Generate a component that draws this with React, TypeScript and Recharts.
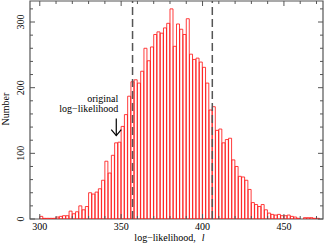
import React from 'react';
import { BarChart, Bar, XAxis, YAxis, ReferenceLine, ReferenceArea } from 'recharts';

// histogram bins (left edge, width 2) and counts
const binLeft = [
  300, 302, 304, 306, 308, 310, 312, 314, 316, 318,
  320, 322, 324, 326, 328, 330, 332, 334, 336, 338,
  340, 342, 344, 346, 348, 350, 352, 354, 356, 358,
  360, 362, 364, 366, 368, 370, 372, 374, 376, 378,
  380, 382, 384, 386, 388, 390, 392, 394, 396, 398,
  400, 402, 404, 406, 408, 410, 412, 414, 416, 418,
  420, 422, 424, 426, 428, 430, 432, 434, 436, 438,
  440, 442, 444, 446, 448, 450, 452, 454, 456, 458,
  460, 462, 464, 466, 468, 470,
];
const counts = [
  4, 1, 1, 1, 1, 3, 4, 5, 5, 12,
  8, 11, 20, 14, 19, 40, 38, 41, 46, 59,
  88, 70, 97, 116, 117, 141, 159, 187, 209, 212,
  207, 225, 260, 241, 262, 281, 285, 283, 291, 298,
  320, 263, 297, 289, 281, 305, 251, 243, 245, 239,
  231, 207, 166, 171, 135, 137, 116, 121, 123, 90,
  80, 65, 64, 59, 45, 25, 22, 19, 22, 14,
  9, 7, 6, 7, 5, 5, 6, 4, 3, 1,
  0, 2, 2, 2, 1, 1,
];
const BIN_WIDTH = 2;

const xTicks = [300, 310, 320, 330, 340, 350, 360, 370, 380, 390, 400, 410, 420, 430, 440, 450, 460, 470];
const yTicks = [0, 20, 40, 60, 80, 100, 120, 140, 160, 180, 200, 220, 240, 260, 280, 300, 320];
const xDomain = [294, 474];
const yDomain = [0, 332];

const limits = [357, 406];
const original = 347;

const data = binLeft.map((b, i) => ({ x: b + BIN_WIDTH / 2, n: counts[i] }));

const W = 325;
const H = 244;
const M = { top: 1, right: 2, left: 0, bottom: 0 };
const FONT = '"Liberation Serif", "Times New Roman", serif';
const AXIS = '#555';

const plotTop = M.top;
const plotRight = W - M.right;

const XTick = ({ x, y, payload }: any) => {
  const major = payload.value % 50 === 0;
  const len = major ? 5 : 3;
  return (
    <g>
      <line x1={x} x2={x} y1={y} y2={y - len} stroke={AXIS} />
      <line x1={x} x2={x} y1={plotTop} y2={plotTop + len} stroke={AXIS} />
      {major && (
        <text x={x} y={y + 11} textAnchor="middle" fontSize={10} fontFamily={FONT} fill="#000">
          {payload.value}
        </text>
      )}
    </g>
  );
};

const YTick = ({ x, y, payload }: any) => {
  const major = payload.value % 100 === 0;
  const len = major ? 5 : 3;
  return (
    <g>
      <line x1={x} x2={x + len} y1={y} y2={y} stroke={AXIS} />
      <line x1={plotRight - len} x2={plotRight} y1={y} y2={y} stroke={AXIS} />
      {major && (
        <text
          x={x - 6}
          y={y}
          transform={`rotate(-90, ${x - 6}, ${y})`}
          textAnchor="middle"
          fontSize={10}
          fontFamily={FONT}
          fill="#000"
        >
          {payload.value}
        </text>
      )}
    </g>
  );
};

const XLabel = ({ viewBox }: any) => (
  <text
    x={viewBox.x + viewBox.width / 2 - 7}
    y={viewBox.y + 22}
    textAnchor="middle"
    fontSize={10}
    fontFamily={FONT}
    fill="#000"
  >
    log−likelihood,<tspan dx={6} fontStyle="italic">l</tspan>
  </text>
);

const YLabel = ({ viewBox }: any) => {
  const cx = viewBox.x + 8.5;
  const cy = viewBox.y + viewBox.height / 2 - 1;
  return (
    <text x={cx} y={cy} transform={`rotate(-90, ${cx}, ${cy})`} textAnchor="middle" fontSize={10} fontFamily={FONT} fill="#000">
      Number
    </text>
  );
};

// arrow + annotation text for the original log-likelihood
const ArrowShape = ({ x1, y1, x2, y2 }: any) => (
  <g>
    <line x1={x1} y1={y1} x2={x2} y2={y2} stroke="#000" strokeWidth={1.2} />
    <polyline
      points={`${x2 - 5},${y2 - 6} ${x2},${y2} ${x2 + 5},${y2 - 6}`}
      fill="none"
      stroke="#000"
      strokeWidth={1.2}
    />
    <text x={x1 + 2} y={y1 - 17} textAnchor="end" fontSize={10} fontFamily={FONT} fill="#000">
      original
    </text>
    <text x={x1 + 2} y={y1 - 7} textAnchor="end" fontSize={10} fontFamily={FONT} fill="#000">
      log−likelihood
    </text>
  </g>
);

export default function App() {
  return (
    <div style={{ position: 'absolute', left: 0, top: 0, width: W, height: H, background: '#fff' }}>
      <BarChart width={W} height={H} data={data} margin={M} barCategoryGap={0} barGap={0}>
        <XAxis
          dataKey="x"
          type="number"
          domain={xDomain}
          ticks={xTicks}
          interval={0}
          height={25}
          tickSize={0}
          tickMargin={0}
          axisLine={false}
          tickLine={false}
          tick={<XTick />}
          label={<XLabel />}
          allowDataOverflow
        />
        <YAxis
          type="number"
          domain={yDomain}
          ticks={yTicks}
          interval={0}
          width={30}
          tickSize={0}
          tickMargin={0}
          axisLine={false}
          tickLine={false}
          tick={<YTick />}
          label={<YLabel />}
          allowDataOverflow
        />
        <Bar dataKey="n" fill="none" stroke="#ff1a1a" strokeWidth={0.85} isAnimationActive={false} />
        {limits.map((v) => (
          <ReferenceLine key={v} x={v} stroke="#555" strokeWidth={1.5} strokeDasharray="8 4" />
        ))}
        <ReferenceLine
          segment={[{ x: original, y: 153 }, { x: original, y: 127 }]}
          shape={<ArrowShape />}
        />
        <ReferenceArea
          x1={xDomain[0]}
          x2={xDomain[1]}
          y1={yDomain[0]}
          y2={yDomain[1]}
          fill="none"
          stroke={AXIS}
          strokeWidth={1.2}
        />
      </BarChart>
    </div>
  );
}
